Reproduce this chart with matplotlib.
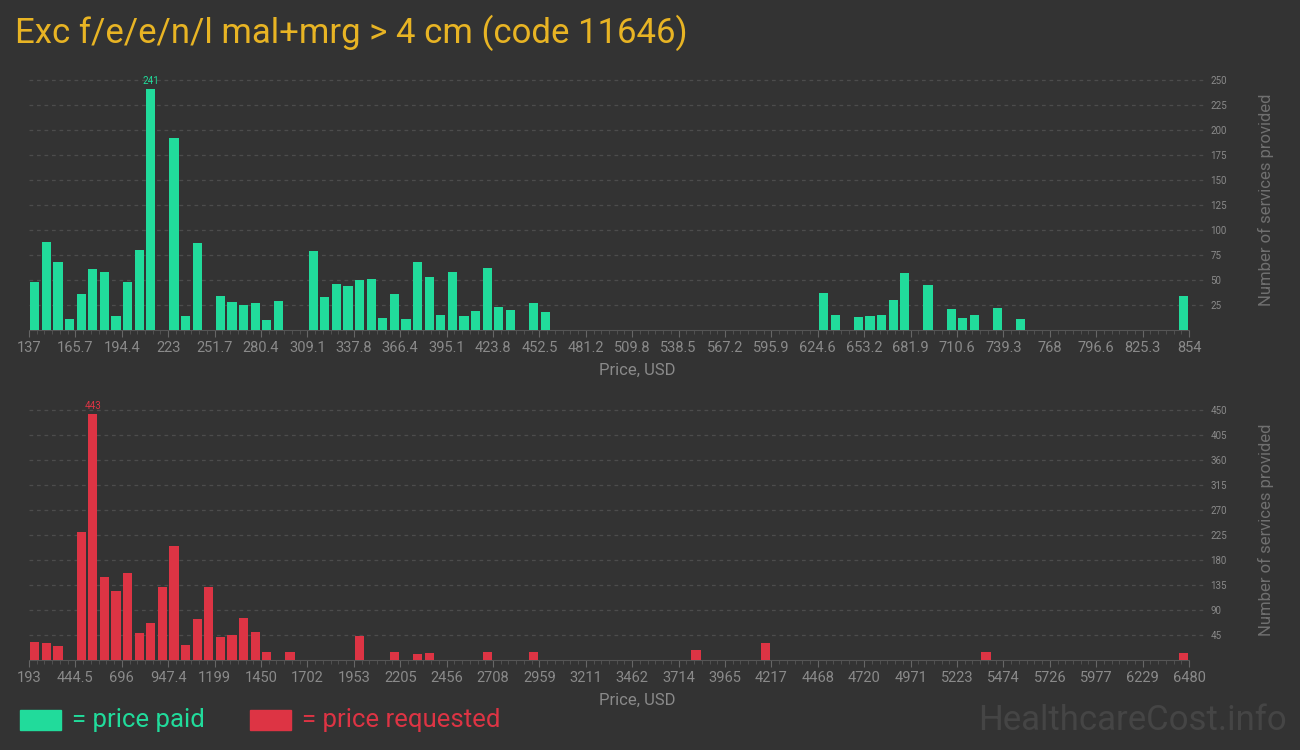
import matplotlib
matplotlib.use('Agg')
import matplotlib.pyplot as plt
import numpy as np
from matplotlib.ticker import FixedLocator

# histogram bins (100 bins per chart), only non-empty ones listed
paid_lo, paid_hi = 137, 854
paid_bins = [0, 1, 2, 3, 4, 5, 6, 7, 8, 9, 10, 12, 13, 14, 16, 17, 18, 19, 20, 21,
             24, 25, 26, 27, 28, 29, 30, 31, 32, 33, 34, 35, 36, 37, 38, 39, 40, 41,
             43, 44, 68, 69, 71, 72, 73, 74, 75, 77, 79, 80, 81, 83, 85, 99]
paid_counts = [48, 88, 68, 11, 36, 61, 58, 14, 48, 80, 241, 192, 14, 87, 34, 28, 25, 27, 10, 29,
               79, 33, 46, 44, 50, 51, 12, 36, 11, 68, 53, 15, 58, 14, 19, 62, 23, 20,
               27, 18, 37, 15, 13, 14, 15, 30, 57, 45, 21, 12, 15, 22, 11, 34]
paid_ticks = ['137', '165.7', '194.4', '223', '251.7', '280.4', '309.1', '337.8', '366.4',
              '395.1', '423.8', '452.5', '481.2', '509.8', '538.5', '567.2', '595.9', '624.6',
              '653.2', '681.9', '710.6', '739.3', '768', '796.6', '825.3', '854']

req_lo, req_hi = 193, 6480
req_bins = [0, 1, 2, 4, 5, 6, 7, 8, 9, 10, 11, 12, 13, 14, 15, 16, 17, 18, 19, 20,
            22, 28, 31, 33, 34, 39, 43, 57, 63, 82, 99]
req_counts = [32, 31, 25, 230, 443, 149, 124, 157, 49, 67, 131, 205, 27, 74, 131, 41, 45, 76, 50, 14,
              14, 43, 14, 11, 13, 14, 14, 18, 31, 14, 13]
req_ticks = ['193', '444.5', '696', '947.4', '1199', '1450', '1702', '1953', '2205', '2456',
             '2708', '2959', '3211', '3462', '3714', '3965', '4217', '4468', '4720', '4971',
             '5223', '5474', '5726', '5977', '6229', '6480']

BG = '#333333'
GREEN = '#21db9b'
RED = '#dd3444'
GRAY = '#8a8a8a'
FONT = 'Roboto'

fig = plt.figure(figsize=(13, 7.5), dpi=100, facecolor=BG)
W, H = 1300., 750.


def make_panel(top_px, lo, hi, bins, counts, ticks, ytick_vals, ymax, color):
    # axes spans x from 29px to 1205px, data right edge at 1189px
    ax = fig.add_axes([29 / W, (H - top_px - 260) / H, 1176 / W, 260 / H])
    ax.set_facecolor(BG)
    bw = (hi - lo) / 100.0
    x = lo + (np.array(bins) + 0.5) * bw
    ax.bar(x, counts, width=bw * 0.78, color=color, zorder=3)
    scale = (hi - lo) / 1160.0
    ax.set_xlim(lo, hi + 16 * scale)
    ax.set_ylim(0, ymax)
    for s in ['top', 'left', 'right']:
        ax.spines[s].set_visible(False)
    ax.spines['bottom'].set_color('#555555')
    ax.spines['bottom'].set_bounds(lo, hi)
    tpos = np.linspace(lo, hi, len(ticks))
    ax.set_xticks(tpos)
    ax.set_xticklabels(ticks, family=FONT, fontsize=10.5, color=GRAY)
    ax.xaxis.set_minor_locator(FixedLocator(np.linspace(lo, hi, 6 * (len(ticks) - 1) + 1)))
    ax.tick_params(axis='x', which='major', length=5, color='#666666', pad=3)
    ax.tick_params(axis='x', which='minor', length=3, color='#555555')
    ax.yaxis.tick_right()
    ax.set_yticks(ytick_vals)
    ax.set_yticklabels([str(v) for v in ytick_vals], family=FONT, fontsize=7, color=GRAY)
    ax.tick_params(axis='y', length=0, pad=4)
    ax.grid(True, axis='y', linestyle=(0, (3, 3)), color='#4c4c4c', linewidth=0.9, zorder=0)
    ax.set_xlabel('Price, USD', family=FONT, fontsize=12, color=GRAY)
    ax.xaxis.set_label_coords(0.517, -0.125)
    ax.yaxis.set_label_position('right')
    ax.set_ylabel('Number of services provided', family=FONT, fontsize=12,
                  color='#707070', labelpad=22)
    i = int(np.argmax(counts))
    ax.text(x[i], counts[i] + ymax * 0.012, str(counts[i]), ha='center', va='bottom',
            family=FONT, fontsize=7, color=color)
    return ax


make_panel(70, paid_lo, paid_hi, paid_bins, paid_counts, paid_ticks,
           list(range(25, 251, 25)), 260, GREEN)
make_panel(400, req_lo, req_hi, req_bins, req_counts, req_ticks,
           list(range(45, 451, 45)), 468, RED)

fig.text(15 / W, 1 - 33 / H, 'Exc f/e/e/n/l mal+mrg > 4 cm (code 11646)', family=FONT,
         fontsize=25, color='#e8b424', va='center', ha='left')

fig.patches.append(plt.Rectangle((20 / W, 1 - 730 / H), 41 / W, 20 / H,
                                 transform=fig.transFigure, color=GREEN))
fig.text(72 / W, 1 - 720 / H, '= price paid', family=FONT, fontsize=18.5,
         color=GREEN, va='center')
fig.patches.append(plt.Rectangle((250 / W, 1 - 730 / H), 41 / W, 20 / H,
                                 transform=fig.transFigure, color=RED))
fig.text(302 / W, 1 - 720 / H, '= price requested', family=FONT, fontsize=18.5,
         color=RED, va='center')
fig.text(1287 / W, 1 - 720 / H, 'HealthcareCost.info', family=FONT, fontsize=25,
         color='#454545', va='center', ha='right')

fig.savefig('out.png', dpi=100, facecolor=BG)
